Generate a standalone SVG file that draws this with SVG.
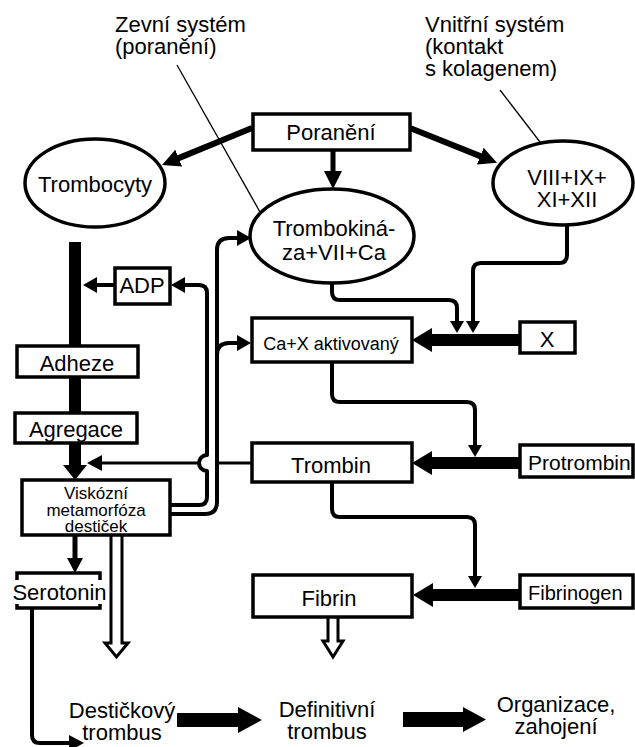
<svg xmlns="http://www.w3.org/2000/svg" width="635" height="747" viewBox="0 0 635 747">
<style>
text{font-family:"Liberation Sans",Arial,Helvetica,sans-serif;font-size:22px;fill:#000}
.m{text-anchor:middle}
.s18{font-size:17px}
.box{fill:#fff;stroke:#000;stroke-width:3.5}
.ell{fill:#fff;stroke:#000;stroke-width:3.5}
.ln{fill:none;stroke:#000;stroke-width:4;stroke-linejoin:round}
.thin{fill:none;stroke:#000;stroke-width:1.3}
.hd{fill:#000;stroke:none}
.hollow{fill:#fff;stroke:#000;stroke-width:3;stroke-linejoin:miter}
</style>
<defs>
<marker id="sm" viewBox="0 0 12 14" refX="2" refY="7" markerWidth="12" markerHeight="14" markerUnits="userSpaceOnUse" orient="auto"><path d="M0,0 L12,7 L0,14 z" fill="#000"/></marker>
<marker id="big" viewBox="0 0 18 18" refX="4" refY="9" markerWidth="18" markerHeight="18" markerUnits="userSpaceOnUse" orient="auto"><path d="M0,0 L18,9 L0,18 z" fill="#000"/></marker>
</defs>
<rect x="0" y="0" width="635" height="747" fill="#fff"/>

<g id="labels">
<text x="115" y="32">Zevní systém</text>
<text x="115" y="54">(poranění)</text>
<text x="425" y="32">Vnitřní systém</text>
<text x="425" y="54">(kontakt</text>
<text x="425" y="76">s kolagenem)</text>
</g>

<g id="connectors">
<line class="thin" x1="177" y1="65" x2="260" y2="212"/>
<line class="thin" x1="500" y1="90" x2="540" y2="142"/>
<line x1="252" y1="128" x2="175" y2="159.6" stroke="#000" stroke-width="6" marker-end="url(#big)"/>
<line x1="410" y1="128" x2="484" y2="157.6" stroke="#000" stroke-width="6" marker-end="url(#big)"/>
<line x1="333" y1="150" x2="333" y2="175" stroke="#000" stroke-width="5" marker-end="url(#big)"/>
<path class="ln" d="M332,283 V292 Q332,300 340,300 H449 Q457,300 457,308 V323" marker-end="url(#sm)"/>
<path class="ln" d="M567,225 V255 Q567,263 559,263 H481 Q473,263 473,271 V323" marker-end="url(#sm)"/>
<rect x="428" y="334" width="93" height="12" class="hd"/>
<polygon class="hd" points="412,340 432,328 432,352"/>
<path class="ln" d="M332,362 V394 Q332,402 340,402 H467 Q475,402 475,410 V447" marker-end="url(#sm)"/>
<rect x="428" y="457" width="93" height="12" class="hd"/>
<polygon class="hd" points="412,463 432,451 432,475"/>
<path class="ln" d="M332,482 V509 Q332,517 340,517 H467 Q475,517 475,525 V578" marker-end="url(#sm)"/>
<rect x="428" y="589" width="93" height="12" class="hd"/>
<polygon class="hd" points="413,595 433,583 433,607"/>
<line x1="252" y1="463" x2="217" y2="463" stroke="#000" stroke-width="3"/>
<line x1="200" y1="463" x2="100" y2="463" stroke="#000" stroke-width="3"/>
<polygon class="hd" points="87,463 102,455 102,471"/>
<path class="ln" d="M170,505 H199 Q207,505 207,497 V471 A8,8 0 0 1 207,455 V293 Q207,285 199,285 H182"/>
<polygon class="hd" points="171,285 185,277 185,293"/>
<path class="ln" d="M170,514 H205 Q217,514 217,502 V250 Q217,238 229,238 H240"/>
<polygon class="hd" points="251,238 237,230 237,246"/>
<path class="ln" d="M217,355 Q217,343 229,343 H240"/>
<polygon class="hd" points="251,343 237,335 237,351"/>
<line x1="115" y1="285" x2="94" y2="285" stroke="#000" stroke-width="4"/>
<polygon class="hd" points="83,285 97,277 97,293"/>
<rect x="69" y="242" width="12" height="226" class="hd"/>
<polygon class="hd" points="63,465 87,465 75,480"/>
<line x1="75" y1="535" x2="75" y2="560" stroke="#000" stroke-width="5"/>
<polygon class="hd" points="75,573 67,558 83,558"/>
<path class="hollow" d="M111,535 V643 H105 L116.5,657 L128,643 H122 V535"/>
<path class="hollow" d="M328,617 V641 H323 L333,657 L343,641 H338 V617"/>
<path class="ln" d="M32,608 V735 Q32,743 40,743 H70"/>
<polygon class="hd" points="84,743 69,735 69,751"/>
<rect x="177" y="713" width="63" height="14" class="hd"/>
<polygon class="hd" points="262,720 238,707 238,733"/>
<rect x="403" y="712" width="62" height="15" class="hd"/>
<polygon class="hd" points="486,719.5 463,707 463,732"/>
</g>

<g id="poraneni"><rect class="box" x="253" y="114" width="157" height="36"/><text class="m" x="331" y="140">Poranění</text></g>
<g id="trombocyty"><ellipse class="ell" cx="95" cy="183" rx="70" ry="44"/><text class="m" x="95" y="192">Trombocyty</text></g>
<g id="trombokinaza"><ellipse class="ell" cx="332" cy="236" rx="82" ry="47"/><text class="m" x="334" y="236">Trombokiná-</text><text class="m" x="334" y="260">za+VII+Ca</text></g>
<g id="viii"><ellipse class="ell" cx="563" cy="183" rx="70" ry="42"/><text class="m" x="567" y="185">VIII+IX+</text><text class="m" x="567" y="207">XI+XII</text></g>
<g id="adp"><rect class="box" x="115" y="268" width="55" height="36"/><text class="m" x="142" y="293">ADP</text></g>
<g id="adheze"><rect class="box" x="17" y="346" width="121" height="31"/><text class="m" x="77" y="371">Adheze</text></g>
<g id="agregace"><rect class="box" x="15" y="413" width="122" height="30"/><text class="m" x="76" y="437">Agregace</text></g>
<g id="viskozni"><rect class="box" x="22" y="480" width="148" height="55"/><text class="m s18" x="96" y="499">Viskózní</text><text class="m s18" x="96" y="516">metamorfóza</text><text class="m s18" x="96" y="532">destiček</text></g>
<g id="serotonin"><rect class="box" x="17" y="573" width="83" height="35"/><rect x="11" y="580" width="97" height="24" fill="#fff"/><text class="m" x="59.5" y="600">Serotonin</text></g>
<g id="cax"><rect class="box" x="252" y="318" width="160" height="44"/><text class="m" x="331" y="350" style="font-size:18px">Ca+X aktivovaný</text></g>
<g id="x"><rect class="box" x="520" y="322" width="55" height="31"/><text class="m" x="547" y="347">X</text></g>
<g id="trombin"><rect class="box" x="252" y="443" width="160" height="39"/><text class="m" x="331" y="473">Trombin</text></g>
<g id="protrombin"><rect class="box" x="520" y="445" width="113" height="32"/><text x="528" y="470" style="font-size:21px">Protrombin</text></g>
<g id="fibrin"><rect class="box" x="253" y="575" width="159" height="42"/><text class="m" x="329" y="606">Fibrin</text></g>
<g id="fibrinogen"><rect class="box" x="520" y="575" width="113" height="33"/><text x="528" y="600" style="font-size:20px">Fibrinogen</text></g>
<g id="desticky"><text class="m" x="122" y="718">Destičkový</text><text class="m" x="122" y="740">trombus</text></g>
<g id="definitivni"><text class="m" x="327" y="717">Definitivní</text><text class="m" x="327" y="739">trombus</text></g>
<g id="organizace"><text class="m" x="556" y="712">Organizace,</text><text class="m" x="556" y="734">zahojení</text></g>
</svg>
